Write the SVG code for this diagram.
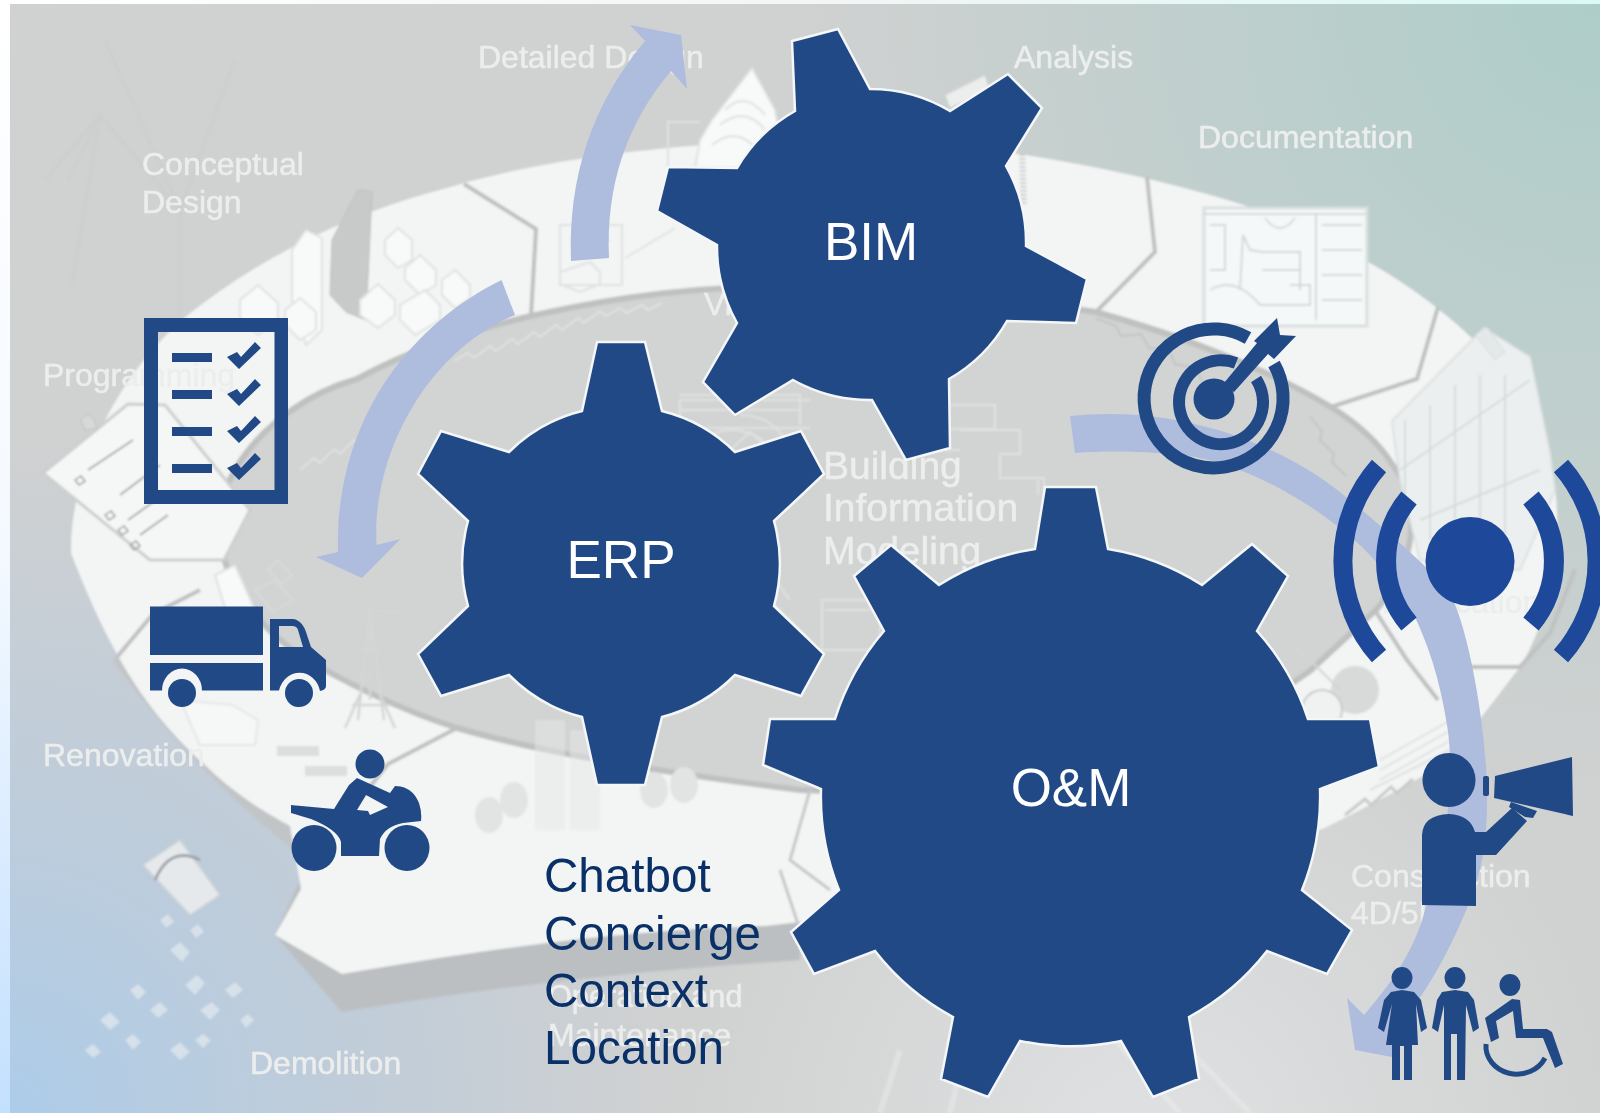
<svg xmlns="http://www.w3.org/2000/svg" width="1600" height="1113" viewBox="0 0 1600 1113">
<style>
.gear{fill:#204985;stroke:#f4f6f8;stroke-width:2.5;stroke-linejoin:miter}
.gt{font-family:"Liberation Sans",Arial,sans-serif;font-size:53px;fill:#fff;text-anchor:middle}
.lab{font-family:"Liberation Sans",Arial,sans-serif;font-size:32px;fill:#eceded;stroke:#eceded;stroke-width:.5}
.big{font-size:39px}
.list{font-family:"Liberation Sans",Arial,sans-serif;font-size:47.600px;fill:#0a3068}
.icon{fill:#204985}
.bc{fill:none;stroke:#1e4899}
.arrow{fill:#aebcde}
.sep{fill:none;stroke:#bfc1c1;stroke-width:4}
.gh{fill:#f8f9f9;stroke:#e0e1e1;stroke-width:2}
.gl{fill:none;stroke:#e0e2e2;stroke-width:2}
.gd{fill:none;stroke:#c4c6c6;stroke-width:2}
</style>
<defs>
<linearGradient id="leftStrip" x1="0" y1="0" x2="0" y2="1"><stop offset="0" stop-color="#fff"/><stop offset=".5" stop-color="#f4f9ff"/><stop offset="1" stop-color="#c3e0fe"/></linearGradient>
<linearGradient id="topStrip" x1="0" y1="0" x2="1" y2="0"><stop offset="0" stop-color="#fff"/><stop offset=".5" stop-color="#f2f6f5"/><stop offset="1" stop-color="#dcf9f4"/></linearGradient>
<radialGradient id="tr" gradientUnits="userSpaceOnUse" cx="1600" cy="0" r="800"><stop offset="0" stop-color="#aecdc9"/><stop offset="1" stop-color="#aecdc9" stop-opacity="0"/></radialGradient>
<radialGradient id="bl" gradientUnits="userSpaceOnUse" cx="0" cy="1113" r="680"><stop offset="0" stop-color="#acccea"/><stop offset=".5" stop-color="#b6cade" stop-opacity=".65"/><stop offset="1" stop-color="#b6cade" stop-opacity="0"/></radialGradient>
<radialGradient id="br" gradientUnits="userSpaceOnUse" cx="1150" cy="1150" r="480"><stop offset="0" stop-color="#dfe1e2"/><stop offset="1" stop-color="#dfe1e2" stop-opacity="0"/></radialGradient>
<filter id="soft" x="-2%" y="-2%" width="104%" height="104%"><feGaussianBlur stdDeviation=".8"/></filter>
</defs>

<g id="backdrop">
<rect width="1600" height="1113" fill="#fff"/>
<rect x="0" y="0" width="11" height="1113" fill="url(#leftStrip)"/>
<rect x="0" y="0" width="1600" height="5" fill="url(#topStrip)"/>
<rect x="10" y="4" width="1590" height="1109" fill="#d0d1d1"/>
<rect x="10" y="4" width="1590" height="1109" fill="url(#tr)"/>
<rect x="10" y="4" width="1590" height="1109" fill="url(#bl)"/>
<rect x="10" y="4" width="1590" height="1109" fill="url(#br)"/>
</g>

<g id="lifecycle-image" filter="url(#soft)">
<path d="M68 180 L100 115 M100 115 L72 285 M100 115 L45 180 M100 115 L180 210 L235 60 M180 210 L180 350 M180 210 L105 40" fill="none" stroke="#cbcdcd" stroke-width="1.500"/>
<path d="M275 935 L342 1012 C 500 985 650 970 800 960 L800 900 L300 880 Z" fill="#bcbfc1"/>
<path d="M112 660 C 170 740 230 800 306 860 L330 850 L230 760 L130 650 Z" fill="#c2c5c7"/>
<path id="ring" d="M71 553 C 70 480 110 380 189 314 C 270 250 360 210 454 186 C 560 155 700 140 850 140 C 1000 142 1150 175 1244 205 C 1330 240 1400 270 1473 339 C 1510 380 1540 430 1552 470 C 1565 530 1555 610 1520 667 L1484 714 L1438 767 C 1400 790 1360 810 1325 828 C 1150 880 950 905 765 926 C 620 930 480 950 342 974 L275 935 L301 889 L290 826 C 260 810 230 790 204 764 C 150 715 112 660 71 553 Z" fill="#f3f4f4"/>
<path d="M531 316 C 620 296 700 286 800 286 C 900 288 1000 298 1096 312 C 1180 335 1270 370 1331 407 C 1360 425 1380 445 1392 464 C 1420 500 1420 560 1376 610 L1310 671 L1260 705 L1100 800 L800 790 C 680 775 550 755 457 728 C 400 710 340 680 296 653 C 240 610 210 560 222 500 C 240 440 300 395 357 379 C 410 350 470 330 531 316 Z" fill="#d2d3d3" stroke="#bfc1c1" stroke-width="6"/>
<path class="sep" d="M464 184 L536 229 L531 316"/>
<path class="sep" d="M1147 177 L1155 252 L1096 312"/>
<path class="sep" d="M1438 307 L1417 379 L1331 407"/>
<path class="sep" d="M457 728 L388 764 L357 803"/>
<path class="sep" d="M117 657 L153 614 L200 590"/>
<path class="sep" d="M1376 612 L1407 660 L1438 700" stroke-width="6"/>
<path class="sep" d="M1470 667 L1520 667 L1550 633 L1575 570" stroke-width="5"/>
<path class="gl" d="M454 361 l14 -8 l6 5 l16 -12 l6 5 l16 -12 l6 5 l16 -12 l6 5 l16 -12 l6 5 l16 -12 l6 5 l16 -12 l6 5 l14 -8 l6 5 l16 -8 l6 5 l14 -7"/>
<path class="gl" d="M300 470 l14 -12 l6 5 l14 -14 l6 5 l14 -14 l6 5 l14 -14"/>
<path class="gd" d="M1096 318 l20 8 l5 10 l20 -2 l8 14 l20 2 l6 14 l20 4 l8 14"/>
<path class="gd" d="M1310 416 l12 16 l-2 8 l14 14 l-2 8 l14 14"/>
<path class="gh" d="M292 300 L292 250 L306 230 L322 238 L322 330 L306 345 Z"/>
<path d="M332 240 L358 190 L372 192 L366 320 L346 312 L330 295 Z" fill="#c8caca" stroke="#bcbebe" stroke-width="1"/>
<path class="gh" d="M385 240 L398 228 L412 240 L412 260 L398 268 L385 255 Z"/>
<path class="gh" d="M405 268 L420 255 L436 270 L436 285 L420 295 L405 280 Z"/>
<path class="gh" d="M442 280 L455 270 L470 285 L470 298 L455 308 L442 295 Z"/>
<path class="gh" d="M360 300 L378 284 L395 300 L395 315 L378 328 L360 315 Z"/>
<path class="gh" d="M400 305 L425 290 L440 305 L440 320 L415 335 L400 320 Z"/>
<path class="gh" d="M240 300 L258 285 L278 303 L278 320 L258 335 L240 318 Z"/>
<path class="gh" d="M285 310 L300 298 L316 312 L316 330 L300 340 L285 325 Z"/>
<path class="gl" d="M560 225 h62 v60 h-62 z M570 240 h40 M668 120 v50 M668 122 h32 M625 258 l50 -30 M590 262 l-30 10 v12 l20 8 l20 -8 v-12 z" stroke="#d9dbdb"/>
<path class="gh" d="M712 120 L752 68 L775 110 L778 125 L745 168 L695 168 L700 140 Z"/>
<path class="gl" d="M725 110 q20 -20 40 5 M720 125 q25 -20 45 5 M712 145 q25 -20 45 5" stroke="#cdcfcf"/>
<path d="M945 95 L985 75 L990 90 L950 108 Z" fill="#eceded" stroke="#cdcfcf"/>
<path d="M1022 150 L1024 205" stroke="#cdcfcf" stroke-width="6" stroke-dasharray="2 2"/>
<g>
<rect x="1204" y="208" width="163" height="118" fill="#f5f8f8" stroke="#d8dfde" stroke-width="3"/>
<path d="M1204 214 H1367 M1316 214 V320 M1322 225 H1362 M1322 250 H1362 M1322 275 H1362 M1322 300 H1362 M1210 225 H1225 V270 H1210 M1240 290 L1243 235 L1250 250 L1262 252 H1300 V270 H1262 M1300 260 V290 M1265 218 q15 20 30 0 M1210 290 q25 -15 50 15 h50 v-20 h-20" fill="none" stroke="#d2d9d9" stroke-width="2"/>
</g>
<g>
<path d="M1392 421 L1484 328 L1530 357 L1550 453 L1555 490 L1520 570 L1420 560 L1400 480 Z" fill="#ebefef" stroke="#dde1e1" stroke-width="2"/>
<path d="M1405 420 V520 M1430 405 V540 M1455 385 V550 M1480 375 V550 M1505 375 V560 M1400 470 L1530 380 M1420 520 L1540 470" fill="none" stroke="#d6dbdb" stroke-width="2"/>
<path d="M1475 335 l12 -8 l18 25 l-10 8 z" fill="#e3e8e8" stroke="#d6dbdb"/>
</g>
<circle cx="1355" cy="690" r="24" fill="#d8dada"/>
<circle cx="1322" cy="710" r="20" fill="#f0f1f1" stroke="#c8caca" stroke-width="2"/>
<path d="M1300 650 L1340 690 M1275 620 l30 40 M1262 640 l30 40 M1290 620 l-25 20 M1300 635 l-25 20 M1310 650 l-25 20" fill="none" stroke="#d3d6d6" stroke-width="2"/>
<path d="M1380 760 L1460 715 M1380 770 L1460 725 M1380 780 L1460 735 M1370 790 L1460 745" fill="none" stroke="#dfe1e1" stroke-width="2"/>
<path d="M1345 815 l20 -16 l6 6 l20 -18 l6 6 l16 -14" fill="none" stroke="#c8caca" stroke-width="3"/>
<path class="gl" d="M810 400 h-130 v28 h130 M680 395 h120 v30 M680 410 h120 M800 380 v-4 M950 405 h45 v24 h-45 M960 430 h60 v24 h-20 v24 h44 v30 M900 450 h60 M1038 480 v15" stroke="#e6e7e7"/>
<path class="gl" d="M740 415 q40 0 55 45 M700 440 q50 -30 90 30 M730 450 l20 -18 l20 18" stroke="#e6e7e7"/>
<path class="gl" d="M760 560 l30 40 M822 600 h58 v50 h-58 z M825 610 h50 M770 600 l40 40" stroke="#e3e4e4"/>
<path d="M43 473 L128 404 L165 405 L250 510 L224 560 L150 560 Z" fill="#f5f6f6" stroke="#cdcfcf" stroke-width="3"/>
<path d="M85 430 l-4 -10 q8 -10 13 0 l3 8 Z" fill="#d7d8d8" stroke="#bfc1c1"/>
<path d="M75 480 l6 -4 l4 5 l-6 4 z M105 515 l6 -4 l4 5 l-6 4 z M118 530 l6 -4 l4 5 l-6 4 z M130 545 l6 -4 l4 5 l-6 4 z" fill="none" stroke="#9c9e9e" stroke-width="1.500"/>
<path d="M88 470 l45 -30 M120 495 l40 -30 M128 520 l35 -25 M140 535 l28 -20" stroke="#a8aaaa" stroke-width="2" fill="none"/>
<path class="gh" d="M215 575 L235 565 L255 610 L230 625 Z"/>
<path d="M255 590 l20 -10 l18 20 l-20 12 z M268 570 l10 -10 l14 16 l-10 8 z" fill="none" stroke="#d8dada" stroke-width="2"/>
<path d="M370 605 L370 700 M358 720 L370 608 L384 720 M345 728 L362 690 M395 728 L378 690 M320 650 L370 610 L398 612 M362 650 L378 650 M356 680 L384 680 M352 705 L390 705" fill="none" stroke="#d4d6d6" stroke-width="2.500"/>
<path class="gh" d="M180 700 L232 705 L258 720 L255 745 L232 745 L200 745 Z" opacity=".7"/>
<rect x="277" y="746" width="42" height="10" fill="#dcdddd"/>
<rect x="305" y="766" width="42" height="10" fill="#dcdddd"/>
<path d="M143 865 L180 840 L220 895 L190 915 Z" fill="#e6e9ec" stroke="#cdd3d8" stroke-width="2"/>
<path d="M155 880 q15 -35 45 -20" fill="none" stroke="#9ca3aa" stroke-width="3"/>
<path d="M170 950 l10 -8 l10 10 l-8 10 z M185 985 l12 -10 l8 8 l-10 12 z M130 990 l8 -6 l8 8 l-8 8 z M100 1020 l10 -8 l10 10 l-10 8 z M150 1010 l10 -8 l8 8 l-10 8 z M200 1010 l12 -8 l8 8 l-10 10 z M225 990 l10 -8 l8 8 l-10 8 z M125 1040 l8 -6 l8 8 l-8 8 z M170 1050 l10 -8 l10 10 l-10 8 z M85 1050 l8 -6 l8 8 l-8 6 z M195 1040 l8 -6 l8 6 l-8 8 z M240 1020 l8 -6 l6 6 l-8 8 z M160 920 l8 -6 l6 8 l-8 6 z M190 930 l8 -6 l6 8 l-8 6 z" fill="#dfe6ed" opacity=".8"/>
<path d="M535 720 h30 v110 h-30 z M570 730 h30 v100 h-30 z" fill="#e6e7e7" opacity=".5"/>
<path d="M475 815 a14 18 0 1 1 28 0 a14 18 0 1 1 -28 0 M500 800 a14 18 0 1 1 28 0 a14 18 0 1 1 -28 0 M640 790 a14 18 0 1 1 28 0 a14 18 0 1 1 -28 0 M670 785 a14 18 0 1 1 28 0 a14 18 0 1 1 -28 0" fill="#e2e3e3"/>
<path d="M1180 1113 L1080 1000 M1250 1113 L1160 1020 M880 1113 L900 1050 M950 1113 L960 1070" stroke="#eceded" stroke-width="6" fill="none" opacity=".45"/>
<path d="M810 790 L790 860 L830 890 M780 870 L800 930" stroke="#c6c8c8" stroke-width="3" fill="none"/>
</g>

<g id="labels">
<text class="lab" x="478" y="68">Detailed Design</text>
<text class="lab" x="1014" y="68">Analysis</text>
<text class="lab" x="1198" y="148">Documentation</text>
<text class="lab" x="142" y="175">Conceptual</text>
<text class="lab" x="142" y="213">Design</text>
<text class="lab" x="43" y="386">Programming</text>
<text class="lab" x="43" y="766">Renovation</text>
<text class="lab" x="250" y="1074">Demolition</text>
<text class="lab big" x="823" y="479">Building</text>
<text class="lab big" x="823" y="521">Information</text>
<text class="lab big" x="823" y="564">Modeling</text>
<text class="lab" x="1351" y="887">Construction</text>
<text class="lab" x="1351" y="924">4D/5D</text>
<text class="lab" style="font-size:30.700px" x="548" y="1007">Operation and</text>
<text class="lab" x="548" y="1046">Maintenance</text>
<text class="lab" x="1382" y="613">Fabrication</text>
<text class="lab" x="704" y="315">Vi</text>
</g>

<g id="connectors">
<path class="arrow" d="M571 261 Q566 135 645 41 L630 25 L681 35 L687 89 L671 71 Q604 150 609 258 Z"/>
<path class="arrow" d="M501.500 280 C410 325 335 420 338 552 L316 557 L362 578 L400.500 539 L376.500 545 C372 450 430 350 515 315 Z"/>
<path class="arrow" d="M1070 416 C1170 405 1270 438 1336 489 C1385 528 1425 565 1448 589 C1470 630 1483 720 1486 767 C1490 830 1482 870 1473 892 C1460 930 1430 990 1402 1021 L1397 1058 L1355 1050 L1347 998 L1364 1015 C1390 985 1415 950 1425 910 C1445 850 1455 790 1448 731 C1440 680 1430 650 1415 617 C1400 590 1385 570 1361 546 C1300 490 1220 453 1157 453 C1130 451 1100 451 1075 453 Z"/>
</g>

<g id="gear-bim">
<path class="gear" d="M792 41 L838 29 L870 89 A156 156 0 0 1 950 111 L1008 74 L1042 108 L1006 166 A156 156 0 0 1 1026 246 L1087 279 L1076 323 L1007 321 A156 156 0 0 1 949 379 L950 448 L906 460 L872 400 A156 156 0 0 1 793 380 L735 415 L703 382 L737 323 A156 156 0 0 1 717 245 L657 211 L668 167 L737 168 A156 156 0 0 1 795 111 Z"/>
<text class="gt" x="871" y="260">BIM</text>
</g>
<g id="gear-erp">
<path class="gear" d="M597 342 L645 342 L662 411 A158 158 0 0 1 735 452 L801 431 L824 474 L774 521 A158 158 0 0 1 774 606 L824 654 L801 696 L735 675 A158 158 0 0 1 662 717 L645 785 L597 785 L582 717 A158 158 0 0 1 509 675 L441 696 L418 654 L468 606 A158 158 0 0 1 468 521 L418 474 L441 431 L509 452 A158 158 0 0 1 582 411 Z"/>
<text class="gt" x="621" y="578">ERP</text>
</g>
<g id="gear-om">
<path class="gear" d="M1045 487 L1096 487 L1108 549 A249 249 0 0 1 1202 585 L1252 544 L1288 576 L1257 631 A249 249 0 0 1 1308 719 L1370 719 L1379 767 L1320 789 A249 249 0 0 1 1302 890 L1352 930 L1327 974 L1267 951 A249 249 0 0 1 1189 1017 L1199 1079 L1153 1097 L1121 1041 A249 249 0 0 1 1020 1041 L988 1097 L941 1079 L953 1017 A249 249 0 0 1 875 951 L814 974 L791 932 L839 890 A249 249 0 0 1 821 789 L763 765 L770 719 L835 719 A249 249 0 0 1 884 631 L854 576 L891 545 L939 585 A249 249 0 0 1 1035 549 Z"/>
<text class="gt" x="1071" y="806">O&amp;M</text>
</g>

<g id="icon-checklist" class="icon">
<path fill-rule="evenodd" d="M144 318 H288 V504 H144 Z M158 332 V490 H274.500 V332 Z"/>
<rect x="172" y="353" width="40" height="9"/>
<rect x="172" y="390" width="40" height="9"/>
<rect x="172" y="427" width="40" height="9"/>
<rect x="172" y="464" width="40" height="9"/>
<path d="M227 357 L237 352 L241 357 L255 342 L261 348 L239 369 Z"/>
<path d="M227 394 L237 389 L241 394 L255 379 L261 385 L239 406 Z"/>
<path d="M227 431 L237 426 L241 431 L255 416 L261 422 L239 443 Z"/>
<path d="M227 468 L237 463 L241 468 L255 453 L261 459 L239 480 Z"/>
</g>

<g id="icon-truck" class="icon">
<rect x="150" y="606.500" width="113" height="48.500"/>
<path d="M150 663 H263 V690.500 H202 A20 22 0 0 0 162 690.500 H150 Z"/>
<path fill-rule="evenodd" d="M270 619 H293 Q302 620 306 632 L311 647 L326 660 V686 Q326 690 320 691 A21 23 0 0 0 279 690.500 H270 Z M279 626 V647 H303 L298 630 Q297 626 292 626 Z"/>
<circle cx="182" cy="693" r="14"/>
<circle cx="299" cy="693" r="14"/>
</g>

<g id="icon-motorbike" class="icon">
<circle cx="370" cy="764" r="14.500"/>
<path fill-rule="evenodd" d="M291 805 L334 809 L349 785 L357 778 L390 793 L395 786 Q412 786 419 803 Q422 812 421 821 L403 823 Q386 826 380 839 L379 856 L341 856 L341 842 Q338 830 311 819 L291 813 Z M366 795 L388 807 L370 815 L368 811 L357 810 Z"/>
<ellipse cx="314" cy="848" rx="22.500" ry="23"/>
<ellipse cx="407" cy="848" rx="22.500" ry="23"/>
</g>

<g id="icon-target">
<g fill="none" stroke="#204985">
<path stroke-width="13" d="M1274 364 A69.500 69.500 0 1 1 1248 338"/>
<path stroke-width="12" d="M1256 379 A42 42 0 1 1 1236 363"/>
</g>
<circle class="icon" cx="1214" cy="399" r="20.500"/>
<path class="icon" d="M1224 383 L1257 343 L1254 341 L1277 318 L1280 335 L1296 336 L1274 359 L1268 354 L1234 392 Z"/>
</g>

<g id="icon-broadcast">
<circle cx="1470" cy="561.500" r="44.500" fill="#1e4899"/>
<path class="bc" stroke-width="19" d="M1379 466 A143 143 0 0 0 1379 656"/>
<path class="bc" stroke-width="20" d="M1409 498 A98 98 0 0 0 1409 624"/>
<path class="bc" stroke-width="19" d="M1561 466 A143 143 0 0 1 1561 656"/>
<path class="bc" stroke-width="20" d="M1531 498 A98 98 0 0 1 1531 624"/>
</g>

<g id="icon-speaker" class="icon">
<ellipse cx="1449" cy="780" rx="26.500" ry="27"/>
<path d="M1422 905 V835 Q1423 815 1449 814 Q1470 815 1475 832 H1486 L1512 808 L1527 821 L1496 855 Q1493 855 1476 855 V906 Z"/>
<path d="M1495 776 L1572 757 L1573 816 L1494 798 Z"/>
<rect x="1483" y="776" width="6" height="20" rx="2"/>
<path d="M1511 802 L1537 811 L1533 818 L1525 817 L1509 807 Z"/>
</g>

<g id="icon-people" class="icon">
<ellipse cx="1402" cy="978" rx="10.500" ry="11"/>
<path d="M1402 990 L1414 992 L1421 1000 L1427 1028 L1421 1032 L1416 1004 L1418 1045 L1412 1045 L1412 1080 L1404 1080 L1404 1046 L1400 1046 L1400 1080 L1392 1080 L1392 1045 L1386 1045 L1392 1004 L1384 1032 L1378 1028 L1384 1000 L1391 992 Z"/>
<ellipse cx="1455" cy="978" rx="10.500" ry="11"/>
<path d="M1455 990 L1468 992 L1474 1000 L1479 1028 L1473 1032 L1466 1005 L1465 1080 L1457 1080 L1457 1034 L1451 1034 L1451 1080 L1444 1080 L1444 1005 L1438 1032 L1432 1028 L1437 1000 L1442 992 Z"/>
<ellipse cx="1510" cy="985" rx="10.500" ry="11"/>
<path d="M1512 999 L1520 1000 L1523 1029 L1547 1029 L1552 1032 L1563 1064 L1555 1068 L1543 1038 L1516 1038 L1513 1011 L1496 1021 L1499 1038 L1491 1042 L1485 1018 Z"/>
<path d="M1486 1044 A31 28 0 0 0 1545 1058" fill="none" stroke="#204985" stroke-width="5"/>
</g>

<g id="service-list">
<text class="list" x="544" y="892">Chatbot</text>
<text class="list" x="544" y="950">Concierge</text>
<text class="list" x="544" y="1007">Context</text>
<text class="list" x="544" y="1064">Location</text>
</g>
</svg>
